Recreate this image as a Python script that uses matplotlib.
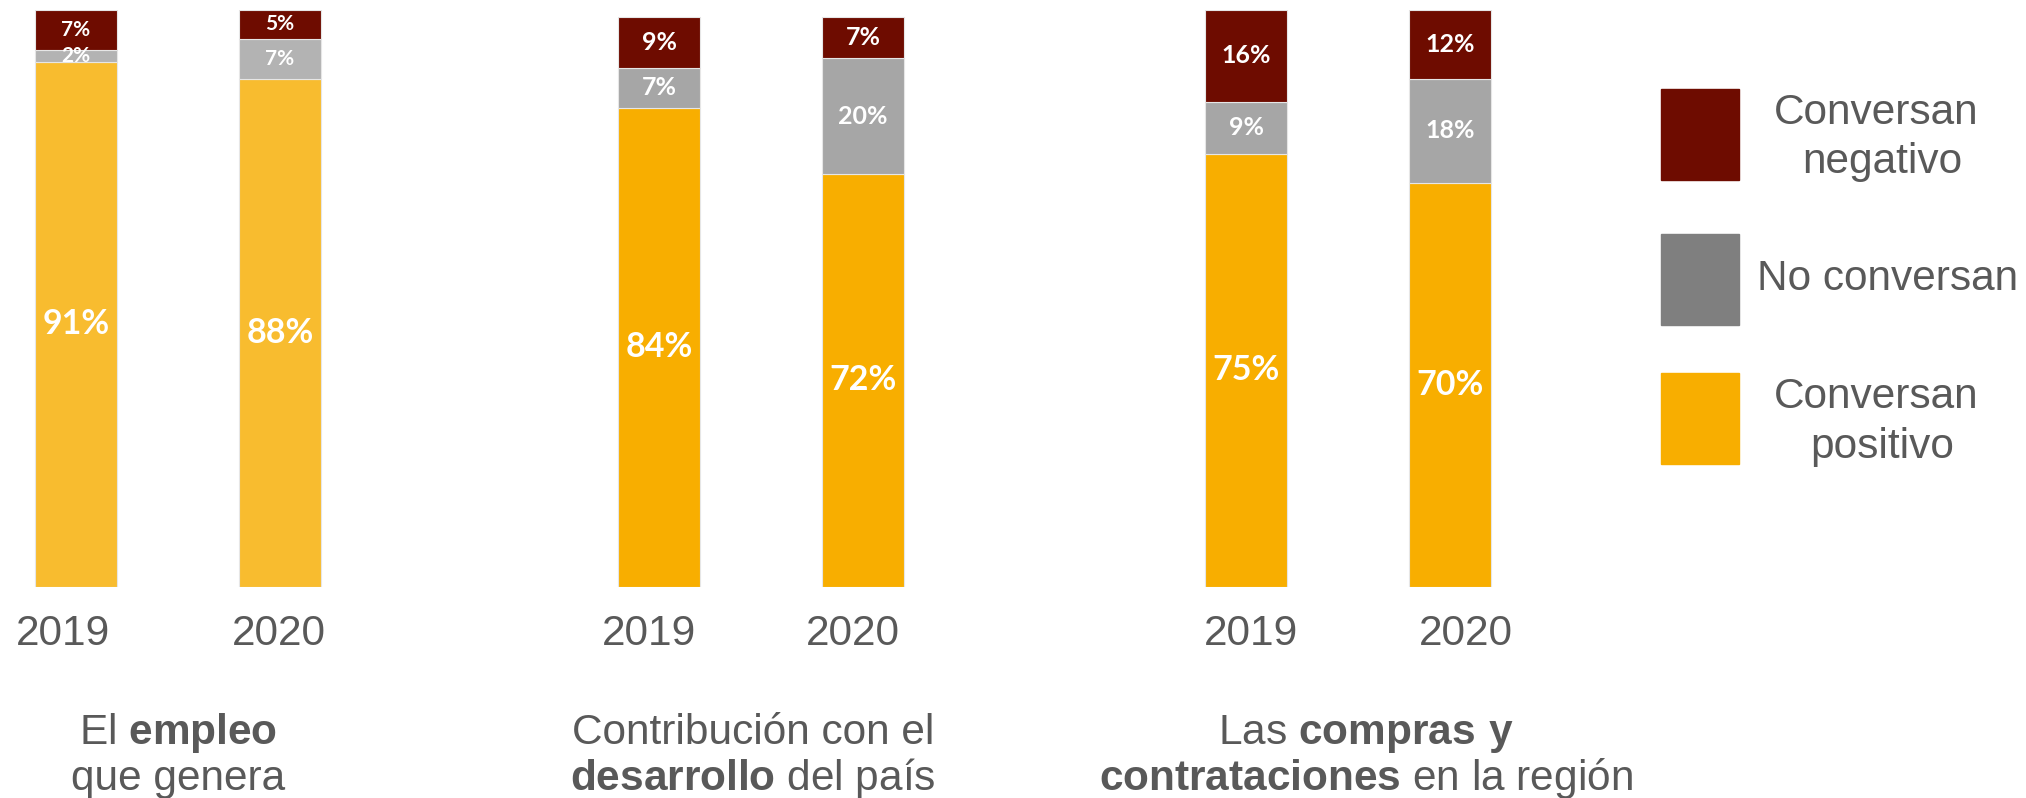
import matplotlib
matplotlib.use("Agg")
import matplotlib.pyplot as plt
from matplotlib.patches import Rectangle
from matplotlib.transforms import ScaledTranslation

plt.rcParams['font.family'] = ['Liberation Sans', 'DejaVu Sans']
plt.rcParams['mathtext.fontset'] = 'custom'
plt.rcParams['mathtext.rm'] = 'Liberation Sans'
plt.rcParams['mathtext.bf'] = 'Liberation Sans:bold'

# data
years = ['2019', '2020']
positivo = [[91, 88], [84, 72.4], [75, 70]]
no_conversan = [[2, 7], [7, 20.3], [9, 18]]
negativo = [[7, 5], [9, 7.3], [16, 12]]
titles = [
    [r"El $\bf{empleo}$", "que genera"],
    ["Contribución con el", r"$\bf{desarrollo}$ del país"],
    [r"Las $\bf{compras\ y}$", r"$\bf{contrataciones}$ en la región"],
]
legend_labels = [['Conversan', 'negativo'], ['No conversan'], ['Conversan', 'positivo']]

# styles
RED = '#6E0C00'
GRAY_TXT = '#595959'
FS = 30.5
yellows = ['#F8BC2F', '#F8AE00', '#F8AE00']
grays = ['#B3B3B3', '#A6A6A6', '#A6A6A6']
legend_colors = [RED, '#7F7F7F', '#F8AE00']
small_sizes = [15, 18, 18]
PCT_FONT = ['Lato', 'DejaVu Sans']

W, H = 2026, 798
fig = plt.figure(figsize=(W / 100, H / 100), dpi=100)

step = 204          # px between the two bars of a panel
first_centers = [75.8, 659, 1246]
ytops = [100, 101.2, 100]
title_x = [178, 753, 1366]
year_shift = [[-13, -1], [-10, -10], [5, 16]]   # px, labels sit a bit off-centre
bottom_px, height_px = 211.3, 577


def pct(vals):
    return [f'{v:.0f}%' for v in vals]


for i in range(3):
    left = first_centers[i] - 0.3 * step
    ax = fig.add_axes([left / W, bottom_px / H, 1.6 * step / W, height_px / H])
    x = [0, 1]
    kw = dict(width=0.4, edgecolor='#E6E6E6', linewidth=0.8)
    b1 = ax.bar(x, positivo[i], color=yellows[i], **kw)
    b2 = ax.bar(x, no_conversan[i], bottom=positivo[i], color=grays[i], **kw)
    base = [p + n for p, n in zip(positivo[i], no_conversan[i])]
    b3 = ax.bar(x, negativo[i], bottom=base, color=RED, **kw)

    ax.bar_label(b1, labels=pct(positivo[i]), label_type='center',
                 color='white', fontweight='bold', fontsize=24.5, family=PCT_FONT)
    ax.bar_label(b2, labels=pct(no_conversan[i]), label_type='center',
                 color='white', fontweight='bold', fontsize=small_sizes[i], family=PCT_FONT)
    ax.bar_label(b3, labels=pct(negativo[i]), label_type='center',
                 color='white', fontweight='bold', fontsize=small_sizes[i], family=PCT_FONT)

    ax.set_xlim(-0.3, 1.3)
    ax.set_ylim(0, ytops[i])
    ax.set_xticks(x, years)
    ax.set_yticks([])
    ax.tick_params(axis='x', length=0, pad=20, labelsize=FS, labelcolor=GRAY_TXT)
    for lab, dx in zip(ax.get_xticklabels(), year_shift[i]):
        lab.set_transform(lab.get_transform() + ScaledTranslation(dx / 100, 0, fig.dpi_scale_trans))
    for s in ax.spines.values():
        s.set_visible(False)

    # category caption, two lines
    fig.text(title_x[i] / W, 1 - 744 / H, titles[i][0], ha='center', va='baseline',
             fontsize=FS, color=GRAY_TXT)
    fig.text(title_x[i] / W, 1 - 790 / H, titles[i][1], ha='center', va='baseline',
             fontsize=FS, color=GRAY_TXT)

# legend drawn by hand
sq_centers = [134.5, 279.5, 418.5]
for c, col, lab in zip(sq_centers, legend_colors, legend_labels):
    fig.add_artist(Rectangle((1661 / W, 1 - (c + 45.5) / H), 78 / W, 91 / H,
                             transform=fig.transFigure, color=col))
    if len(lab) == 2:
        fig.text(1876 / W, 1 - (c - 10) / H, lab[0], ha='center', va='baseline', fontsize=FS, color=GRAY_TXT)
        fig.text(1882 / W, 1 - (c + 39) / H, lab[1], ha='center', va='baseline', fontsize=FS, color=GRAY_TXT)
    else:
        fig.text(1888 / W, 1 - (c + 10.5) / H, lab[0], ha='center', va='baseline', fontsize=FS, color=GRAY_TXT)

fig.savefig('out.png', dpi=100)
